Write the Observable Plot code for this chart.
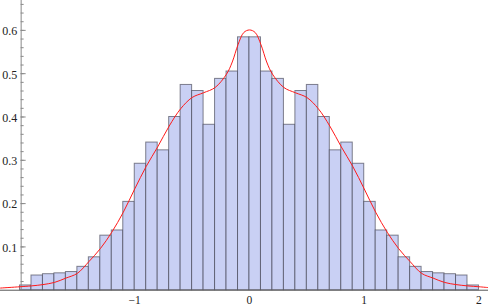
<!DOCTYPE html>
<html>
<head>
<meta charset="utf-8">
<script src="https://cdn.jsdelivr.net/npm/d3@7"></script>
<script src="https://cdn.jsdelivr.net/npm/@observablehq/plot@0.6"></script>
<style>
  html, body { margin: 0; padding: 0; background: #fff; }
  #chart svg { display: block; }
  #chart svg text { font-family: "Liberation Serif", "Times New Roman", serif; }
</style>
</head>
<body>
<div id="chart"></div>
<script>
// Histogram bins (left edges, width 0.1) and bar heights (density)
const binLeft = [-2.0, -1.9, -1.8, -1.7, -1.6, -1.5, -1.4, -1.3, -1.2, -1.1,
                 -1.0, -0.9, -0.8, -0.7, -0.6, -0.5, -0.4, -0.3, -0.2, -0.1,
                  0.0,  0.1,  0.2,  0.3,  0.4,  0.5,  0.6,  0.7,  0.8,  0.9,
                  1.0,  1.1,  1.2,  1.3,  1.4,  1.5,  1.6,  1.7,  1.8,  1.9];
const barHeight = [0.011, 0.034, 0.037, 0.039, 0.042, 0.054, 0.076, 0.126, 0.138, 0.204,
                   0.292, 0.341, 0.323, 0.400, 0.474, 0.460, 0.382, 0.488, 0.505, 0.584,
                   0.584, 0.505, 0.488, 0.382, 0.460, 0.474, 0.400, 0.323, 0.341, 0.292,
                   0.204, 0.138, 0.126, 0.076, 0.054, 0.042, 0.039, 0.037, 0.034, 0.011];
const binWidth = 0.1;

// Smooth density curve
const curveX = [-2.17, -2.0, -1.9, -1.8, -1.7, -1.6, -1.5, -1.4, -1.3, -1.2, -1.1,
                -1.0, -0.9, -0.8, -0.7, -0.6, -0.5, -0.4, -0.3, -0.2, -0.15, -0.1, -0.05,
                 0.0, 0.05, 0.1, 0.15, 0.2, 0.3, 0.4, 0.5, 0.6, 0.7, 0.8, 0.9,
                 1.0, 1.1, 1.2, 1.3, 1.4, 1.5, 1.6, 1.7, 1.8, 1.9, 2.0, 2.083];
const curveY = [0.005, 0.008, 0.010, 0.013, 0.018, 0.028, 0.039, 0.066, 0.096, 0.134, 0.180,
                0.234, 0.286, 0.331, 0.379, 0.419, 0.445, 0.456, 0.468, 0.499, 0.527, 0.567, 0.595,
                0.601, 0.595, 0.567, 0.527, 0.499, 0.468, 0.456, 0.445, 0.419, 0.379, 0.331, 0.286,
                0.234, 0.180, 0.134, 0.096, 0.066, 0.039, 0.028, 0.018, 0.013, 0.010, 0.008, 0.006];

// Axis ticks
const xTicks = [-1, 0, 1, 2];
const yTicks = [0.1, 0.2, 0.3, 0.4, 0.5, 0.6];
const yMinorTicks = d3.range(1, 34).map(i => +(i * 0.02).toFixed(2));

const bars = binLeft.map((x, i) => ({x1: x, x2: x + binWidth, y: barHeight[i]}));
const curve = curveX.map((x, i) => ({x, y: curveY[i]}));

const yAxisAt = -1.99;
const pxPerX = 114.75;
const font = "Liberation Serif, Times New Roman, serif";

const plot = Plot.plot({
  width: 488,
  height: 306,
  marginTop: 0, marginRight: 0, marginBottom: 0, marginLeft: 0,
  x: {domain: [-2.170, 2.083], axis: null},
  y: {domain: [-0.0376, 0.669], axis: null},
  style: {background: "white", fontFamily: font, overflow: "visible"},
  marks: [
    Plot.rectY(bars, {x1: "x1", x2: "x2", y: "y", fill: "#c9d0f4", stroke: "#3a3a48", strokeOpacity: 0.62, strokeWidth: 1}),
    Plot.ruleX([yAxisAt], {y1: 0, y2: 0.669, stroke: "#8a8a8a", strokeWidth: 1}),
    Plot.ruleY(yMinorTicks, {y: d => d, x1: yAxisAt, x2: yAxisAt + 3 / pxPerX, stroke: "#8a8a8a", strokeWidth: 1}),
    Plot.ruleY(yTicks, {y: d => d, x1: yAxisAt, x2: yAxisAt + 5 / pxPerX, stroke: "#8a8a8a", strokeWidth: 1}),
    Plot.ruleY([0], {stroke: "#555", strokeWidth: 1}),
    Plot.line(curve, {x: "x", y: "y", stroke: "#ff1a1a", strokeWidth: 1, curve: "catmull-rom"}),
    Plot.text(yTicks, {x: yAxisAt, y: d => d, text: d => d.toFixed(1), textAnchor: "end", dx: -4, dy: 1, fontSize: 12, fontFamily: font, fill: "#222"}),
    Plot.text(xTicks, {x: d => d, y: 0, text: d => d < 0 ? "\u2212" + Math.abs(d) : String(d), dy: 10, fontSize: 11.5, fontFamily: font, fill: "#222"})
  ]
});
document.getElementById("chart").appendChild(plot);
</script>
</body>
</html>
